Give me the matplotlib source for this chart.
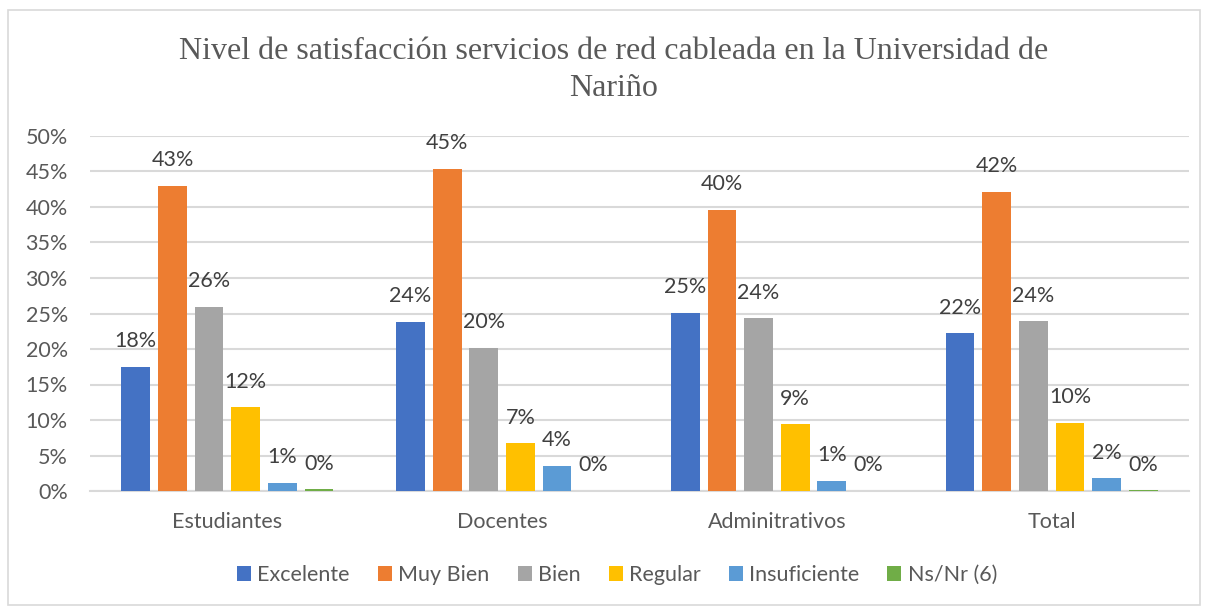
import numpy as np
import matplotlib.pyplot as plt
from matplotlib.patches import Rectangle

# === DATOS ===
grupos = ["Estudiantes", "Docentes", "Adminitrativos", "Total"]
series = ["Excelente", "Muy Bien", "Bien", "Regular", "Insuficiente", "Ns/Nr (6)"]
colores = ["#4472C4", "#ED7D31", "#A5A5A5", "#FFC000", "#5B9BD5", "#70AD47"]

excelente = [17.5, 23.8, 25.1, 22.2]
muy_bien = [43.0, 45.4, 39.6, 42.1]
bien = [25.9, 20.2, 24.3, 23.9]
regular = [11.8, 6.7, 9.4, 9.6]
insuficiente = [1.1, 3.5, 1.4, 1.8]
ns_nr = [0.25, 0.0, 0.0, 0.1]
valores = [excelente, muy_bien, bien, regular, insuficiente, ns_nr]

gris = "#595959"
fuente = "Lato"

fig = plt.figure(figsize=(12.1, 6.08), dpi=100)
fig.patches.append(Rectangle((8 / 1210, 3 / 608), 1192 / 1210, 595 / 608,
                             transform=fig.transFigure, fill=False,
                             edgecolor="#d9d9d9", linewidth=1.2))

ax = fig.add_axes([90 / 1210, 117 / 608, 1099 / 1210, 355 / 608])

x = np.arange(len(grupos))
paso = 0.1333
ancho = 0.105
for i, (nombre, vals, col) in enumerate(zip(series, valores, colores)):
    pos = x + (i - 2.5) * paso
    ax.bar(pos, vals, width=ancho, color=col, label=nombre, zorder=3)
    for xp, v in zip(pos, vals):
        ax.annotate(f"{v:.0f}%", (xp, v), xytext=(0, 18.5), textcoords="offset points",
                    ha="center", va="center", fontsize=15.5, color="#404040",
                    family=fuente, zorder=4)

ax.set_xlim(-0.5, 3.5)
ax.set_ylim(0, 50)
ax.set_yticks(np.arange(0, 51, 5))
ax.set_yticklabels([f"{t}%" for t in range(0, 51, 5)], family=fuente,
                   fontsize=15.5, color=gris)
ax.set_xticks(x)
ax.set_xticklabels(grupos, family=fuente, fontsize=15.5, color=gris)
ax.tick_params(axis="both", length=0)
ax.tick_params(axis="y", pad=16)
ax.tick_params(axis="x", pad=15)
ax.grid(axis="y", color="#d9d9d9", linewidth=1.5, zorder=0)
for lado in ["top", "right", "left"]:
    ax.spines[lado].set_visible(False)
ax.spines["bottom"].set_color("#d9d9d9")
ax.spines["bottom"].set_linewidth(1.5)

fig.text(0.507, 0.885, "Nivel de satisfacción servicios de red cableada en la Universidad de\nNariño",
         ha="center", va="center", family="Liberation Serif", fontsize=23,
         color=gris, linespacing=1.38)

fig.legend(loc="center", bbox_to_anchor=(0.51, 0.054), ncol=6, frameon=False,
           prop={"family": fuente, "size": 15.5}, labelcolor=gris,
           handlelength=0.65, handleheight=0.65, handletextpad=0.3,
           columnspacing=1.3)

fig.savefig("out.png", dpi=100)
